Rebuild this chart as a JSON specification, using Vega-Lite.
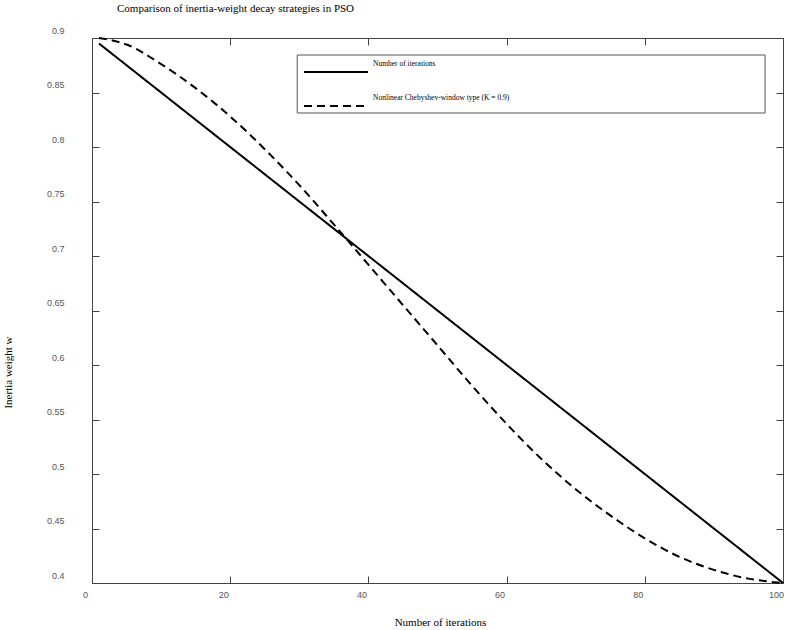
{
  "$schema": "https://vega.github.io/schema/vega-lite/v6.json",
  "width": 691,
  "height": 545,
  "autosize": {"type": "none"},
  "padding": {"left": 92, "top": 38, "right": 4, "bottom": 47},
  "background": "white",
  "config": {
    "view": {"stroke": "#444", "strokeWidth": 1},
    "axis": {"grid": false, "domain": false}
  },
  "title": {
    "text": "Comparison of inertia-weight decay strategies in PSO",
    "font": "Liberation Serif",
    "fontSize": 11,
    "fontWeight": "normal",
    "color": "black",
    "anchor": "start",
    "frame": "group",
    "dx": 25,
    "offset": 1,
    "baseline": "bottom"
  },
  "datasets": {
    "linear": [
      {"iteration": 1, "w": 0.895, "series": "Number of iterations"},
      {"iteration": 20, "w": 0.8, "series": "Number of iterations"},
      {"iteration": 40, "w": 0.7, "series": "Number of iterations"},
      {"iteration": 60, "w": 0.6, "series": "Number of iterations"},
      {"iteration": 80, "w": 0.5, "series": "Number of iterations"},
      {"iteration": 100, "w": 0.4, "series": "Number of iterations"}
    ],
    "cheby": [
      {"iteration": 1, "w": 0.9, "series": "Nonlinear Chebyshev-window type (K = 0.9)"},
      {"iteration": 5, "w": 0.894, "series": "Nonlinear Chebyshev-window type (K = 0.9)"},
      {"iteration": 10, "w": 0.876, "series": "Nonlinear Chebyshev-window type (K = 0.9)"},
      {"iteration": 15, "w": 0.854, "series": "Nonlinear Chebyshev-window type (K = 0.9)"},
      {"iteration": 20, "w": 0.828, "series": "Nonlinear Chebyshev-window type (K = 0.9)"},
      {"iteration": 25, "w": 0.798, "series": "Nonlinear Chebyshev-window type (K = 0.9)"},
      {"iteration": 30, "w": 0.765, "series": "Nonlinear Chebyshev-window type (K = 0.9)"},
      {"iteration": 35, "w": 0.729, "series": "Nonlinear Chebyshev-window type (K = 0.9)"},
      {"iteration": 40, "w": 0.692, "series": "Nonlinear Chebyshev-window type (K = 0.9)"},
      {"iteration": 45, "w": 0.655, "series": "Nonlinear Chebyshev-window type (K = 0.9)"},
      {"iteration": 50, "w": 0.618, "series": "Nonlinear Chebyshev-window type (K = 0.9)"},
      {"iteration": 55, "w": 0.581, "series": "Nonlinear Chebyshev-window type (K = 0.9)"},
      {"iteration": 60, "w": 0.546, "series": "Nonlinear Chebyshev-window type (K = 0.9)"},
      {"iteration": 65, "w": 0.514, "series": "Nonlinear Chebyshev-window type (K = 0.9)"},
      {"iteration": 70, "w": 0.486, "series": "Nonlinear Chebyshev-window type (K = 0.9)"},
      {"iteration": 75, "w": 0.462, "series": "Nonlinear Chebyshev-window type (K = 0.9)"},
      {"iteration": 80, "w": 0.441, "series": "Nonlinear Chebyshev-window type (K = 0.9)"},
      {"iteration": 85, "w": 0.424, "series": "Nonlinear Chebyshev-window type (K = 0.9)"},
      {"iteration": 90, "w": 0.412, "series": "Nonlinear Chebyshev-window type (K = 0.9)"},
      {"iteration": 95, "w": 0.404, "series": "Nonlinear Chebyshev-window type (K = 0.9)"},
      {"iteration": 100, "w": 0.4, "series": "Nonlinear Chebyshev-window type (K = 0.9)"}
    ]
  },
  "resolve": {"axis": {"x": "independent", "y": "independent"}},
  "layer": [
    {
      "data": {"values": [{}]},
      "mark": {"type": "rect", "fill": "white", "stroke": "#555", "strokeWidth": 1},
      "encoding": {
        "x": {"datum": 29.7, "type": "quantitative", "axis": null},
        "x2": {"datum": 97.4},
        "y": {"datum": 0.8844, "type": "quantitative", "axis": null},
        "y2": {"datum": 0.8312}
      }
    },
    {
      "data": {"name": "linear"},
      "mark": {"type": "line", "color": "black", "strokeWidth": 2},
      "encoding": {
        "x": {
          "field": "iteration",
          "type": "quantitative",
          "scale": {"domain": [0, 100], "nice": false},
          "axis": {
            "orient": "bottom",
            "values": [0, 20, 40, 60, 80, 100],
            "format": "d",
            "tickSize": -7,
            "tickColor": "#444",
            "labelPadding": 14,
            "labelOffset": -7,
            "labelFlush": false,
            "labelOverlap": false,
            "labelFont": "Liberation Sans",
            "labelFontSize": 9,
            "labelColor": "#555",
            "title": "Number of iterations",
            "titleFont": "Liberation Serif",
            "titleFontSize": 11,
            "titleFontWeight": "normal",
            "titleColor": "black",
            "titleX": 348,
            "titleY": 39,
            "titleBaseline": "middle",
            "titleAlign": "center"
          }
        },
        "y": {
          "field": "w",
          "type": "quantitative",
          "scale": {"domain": [0.4, 0.9], "nice": false, "zero": false},
          "axis": {
            "orient": "left",
            "values": [0.4, 0.45, 0.5, 0.55, 0.6, 0.65, 0.7, 0.75, 0.8, 0.85, 0.9],
            "format": ".2~f",
            "tickSize": -7,
            "tickColor": "#444",
            "labelPadding": 35,
            "labelOffset": -8,
            "labelAlign": "right",
            "labelBaseline": "middle",
            "labelFlush": false,
            "labelOverlap": false,
            "labelFont": "Liberation Sans",
            "labelFontSize": 9,
            "labelColor": "#555",
            "title": "Inertia weight w",
            "titleFont": "Liberation Serif",
            "titleFontSize": 11,
            "titleFontWeight": "normal",
            "titleColor": "black",
            "titleX": -84,
            "titleY": 334,
            "titleAngle": 270,
            "titleBaseline": "middle",
            "titleAlign": "center"
          }
        },
        "strokeDash": {
          "field": "series",
          "type": "nominal",
          "scale": {
            "domain": ["Number of iterations", "Nonlinear Chebyshev-window type (K = 0.9)"],
            "range": [[1, 0], [8, 5]]
          },
          "legend": {
            "orient": "none",
            "legendX": 208,
            "legendY": 24,
            "title": null,
            "symbolType": "stroke",
            "symbolSize": 4096,
            "symbolStrokeWidth": 2,
            "symbolStrokeColor": "black",
            "labelFont": "Liberation Serif",
            "labelFontSize": 7.5,
            "labelColor": "black",
            "labelOffset": 4,
            "labelLimit": 400,
            "clipHeight": 14,
            "rowPadding": 15,
            "padding": 3,
            "encode": {
              "labels": {"update": {"dy": {"value": -8}}}
            }
          }
        }
      }
    },
    {
      "data": {"name": "cheby"},
      "mark": {"type": "line", "color": "black", "strokeWidth": 2, "interpolate": "monotone"},
      "encoding": {
        "x": {
          "field": "iteration",
          "type": "quantitative",
          "axis": {
            "orient": "top",
            "values": [0, 20, 40, 60, 80, 100],
            "tickSize": -7,
            "tickColor": "#444",
            "labels": false,
            "title": null
          }
        },
        "y": {
          "field": "w",
          "type": "quantitative",
          "axis": {
            "orient": "right",
            "values": [0.4, 0.45, 0.5, 0.55, 0.6, 0.65, 0.7, 0.75, 0.8, 0.85, 0.9],
            "tickSize": -7,
            "tickColor": "#444",
            "labels": false,
            "title": null
          }
        },
        "strokeDash": {
          "field": "series",
          "type": "nominal"
        }
      }
    }
  ]
}
